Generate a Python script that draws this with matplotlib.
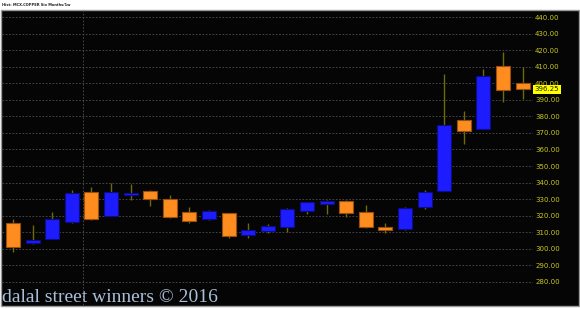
"""Weekly MCX copper candlesticks, six months, dark terminal style."""

import matplotlib

matplotlib.use("Agg")

import matplotlib.pyplot as plt
from matplotlib.patches import Rectangle
import numpy as np


OUTPUT_PNG = "out.png"
W, H = 580, 309

TITLE = "Hist: MCX.COPPER Six Months/1w"
WATERMARK = "dalal street winners \u00a9 2016"

OPENS = [315.4, 303.5, 306.0, 316.4, 334.3, 320.0, 332.7, 334.7, 330.0, 322.0,
         318.0, 321.5, 308.4, 310.8, 313.0, 323.0, 327.3, 328.7, 322.2, 313.4,
         312.0, 325.1, 335.1, 377.8, 372.6, 410.2, 400.1]
HIGHS = [318.0, 314.4, 322.2, 335.5, 337.2, 339.8, 339.4, 335.5, 332.7, 325.3,
         323.5, 321.6, 315.4, 314.8, 324.8, 328.5, 329.5, 329.5, 326.5, 315.4,
         325.5, 335.4, 405.4, 383.4, 408.6, 418.9, 409.8]
LOWS = [298.3, 302.7, 305.8, 315.8, 317.2, 320.0, 329.7, 326.1, 318.8, 315.8,
        317.4, 306.7, 306.4, 309.6, 310.3, 321.0, 321.0, 319.2, 312.4, 309.8,
        311.4, 324.2, 335.0, 363.1, 372.6, 388.9, 390.7]
CLOSES = [301.3, 305.1, 317.8, 333.7, 317.8, 334.1, 333.7, 330.0, 319.4, 317.0,
          322.7, 307.9, 311.2, 314.0, 324.2, 328.1, 329.1, 321.6, 313.2, 311.4,
          324.9, 334.3, 374.8, 371.3, 404.4, 395.9, 396.25]

Y_TICKS = list(range(280, 441, 10))
LAST_PRICE = CLOSES[-1]

UP_FILL, UP_EDGE = "#1c1cff", "#0c0c8a"
DOWN_FILL, DOWN_EDGE = "#ff8c1e", "#9a4e10"
WICK = "#6e6a08"
AXIS_YELLOW = "#c8c81e"


def px(x0, y0, x1, y1):
    """Pixel box (top-left origin) -> figure fraction rect."""
    return [x0 / W, 1 - y1 / H, (x1 - x0) / W, (y1 - y0) / H]


def main():
    fig = plt.figure(figsize=(W / 100, H / 100), dpi=100, facecolor="white")

    # black panel behind everything
    bg = fig.add_axes([0, 0, 1, 1])
    bg.set_xlim(0, W)
    bg.set_ylim(H, 0)
    bg.axis("off")
    bg.add_patch(Rectangle((0.5, 10), W - 2, 296, facecolor="#050505",
                           edgecolor="#9a9a9a", linewidth=1.0))
    bg.text(2, 5, TITLE, fontsize=2.6, color="#202020", fontweight="bold",
            ha="left", va="center", family="DejaVu Sans")

    ax = fig.add_axes(px(2, 10, 533, 305))
    ax.set_facecolor("none")
    step = 19.6
    x_left = (2 - 13) / step
    x_right = (533 - 13) / step
    ax.set_xlim(x_left, x_right)
    scale = 1.656  # px per price unit
    ax.set_ylim(440 - (305 - 17) / scale, 440 + (17 - 10) / scale)

    ax.set_yticks(Y_TICKS)
    ax.set_yticklabels([f"{v:.2f}" for v in Y_TICKS])
    ax.yaxis.tick_right()
    ax.tick_params(axis="y", length=0, pad=1.5, labelsize=5, labelcolor=AXIS_YELLOW)
    ax.set_xticks([])
    for spine in ax.spines.values():
        spine.set_visible(False)
    ax.grid(axis="y", color="#505050", linestyle=(0, (2, 2)), linewidth=0.6)
    ax.axvline(3.55, color="#505050", linestyle=(0, (2, 2)), linewidth=0.6)

    idx = np.arange(len(OPENS))
    opens = np.array(OPENS)
    closes = np.array(CLOSES)
    up = closes >= opens

    ax.vlines(idx, LOWS, HIGHS, color=WICK, linewidth=1.0, zorder=2)
    bottoms = np.minimum(opens, closes)
    heights = np.maximum(np.abs(closes - opens), 0.6)
    ax.bar(idx[up], heights[up], bottom=bottoms[up], width=0.72,
           color=UP_FILL, edgecolor=UP_EDGE, linewidth=0.8, zorder=3)
    ax.bar(idx[~up], heights[~up], bottom=bottoms[~up], width=0.72,
           color=DOWN_FILL, edgecolor=DOWN_EDGE, linewidth=0.8, zorder=3)

    # last price marker on the axis
    ax.text(1.003, LAST_PRICE, f"{LAST_PRICE:.2f}", transform=ax.get_yaxis_transform(),
            fontsize=5, color="#202000", ha="left", va="center", zorder=6,
            bbox=dict(boxstyle="square,pad=0.25", facecolor="#ffff00",
                      edgecolor="none"), clip_on=False)

    bg.text(2, 302, WATERMARK, fontsize=14, color="#a9bfd8",
            family="Liberation Serif", ha="left", va="baseline", zorder=10)

    fig.savefig(OUTPUT_PNG, dpi=100, facecolor="white")
    plt.close(fig)


if __name__ == "__main__":
    main()
